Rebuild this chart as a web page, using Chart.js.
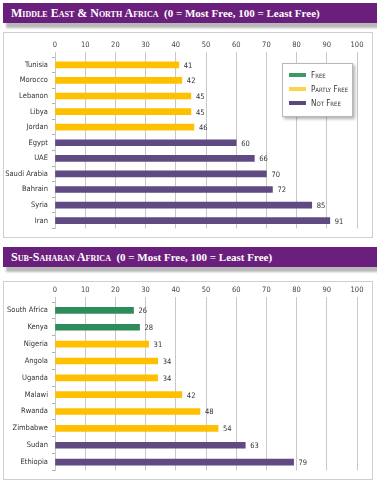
<!DOCTYPE html>
<html>
<head>
<meta charset="utf-8">
<script src="https://cdn.jsdelivr.net/npm/chart.js@4"></script>
<style>
  body { margin: 0; background: #fff; width: 377px; height: 500px; position: relative; overflow: hidden; }
  .hdr {
    position: absolute; left: 3px; width: 374px; height: 20px;
    background: #6b1f7c; color: #fff;
    font-family: "Liberation Serif", serif; font-weight: bold; font-size: 11px;
    line-height: 20px; padding-left: 8px; box-sizing: border-box;
    box-shadow: 3px 5px 2px rgba(0,0,0,0.28);
  }
  .hdr .sc { font-variant: small-caps; font-size: 12px; }
  .panel { position: absolute; left: 3px; width: 370px; border: 1px solid #cfcfcf; box-sizing: border-box; background: #fff; }
  .panel canvas { position: absolute; left: 0; top: 0; }
  .legend {
    position: absolute; left: 282px; top: 63px; width: 71px; height: 54px;
    background: #fff; border: 1px solid #b8b8b8; box-sizing: border-box;
    box-shadow: 2px 2px 3px rgba(0,0,0,0.3);
    font-family: "DejaVu Sans Condensed", "DejaVu Sans", sans-serif; font-size: 8px; color: #333; font-variant: small-caps;
  }
  .legend div { position: absolute; left: 6px; height: 10px; line-height: 10px; white-space: nowrap; }
  .legend span.sw { display: inline-block; width: 17px; height: 4px; vertical-align: middle; margin-right: 5px; position: relative; top: -1px; }
</style>
</head>
<body>
<div class="hdr" style="top:3px;"><span class="sc">Middle East &amp; North Africa</span>&nbsp; (0 = Most Free, 100 = Least Free)</div>
<div class="panel" style="top:32px;height:206px;"><canvas id="mena"></canvas></div>
<div class="legend">
  <div style="top:7px;"><span class="sw" style="background:#3a9a6a"></span>Free</div>
  <div style="top:21px;"><span class="sw" style="background:#ffd34d"></span>Partly Free</div>
  <div style="top:35px;"><span class="sw" style="background:#5a4a7c"></span>Not Free</div>
</div>
<div class="hdr" style="top:247px;"><span class="sc">Sub-Saharan Africa</span>&nbsp; (0 = Most Free, 100 = Least Free)</div>
<div class="panel" style="top:281px;height:199px;"><canvas id="ssa"></canvas></div>
<script>
const menaCountries = ['Tunisia', 'Morocco', 'Lebanon', 'Libya', 'Jordan', 'Egypt', 'UAE', 'Saudi Arabia', 'Bahrain', 'Syria', 'Iran'];
const menaScores = [41, 42, 45, 45, 46, 60, 66, 70, 72, 85, 91];
const menaStatus = ['P', 'P', 'P', 'P', 'P', 'N', 'N', 'N', 'N', 'N', 'N'];

const ssaCountries = ['South Africa', 'Kenya', 'Nigeria', 'Angola', 'Uganda', 'Malawi', 'Rwanda', 'Zimbabwe', 'Sudan', 'Ethiopia'];
const ssaScores = [26, 28, 31, 34, 34, 42, 48, 54, 63, 79];
const ssaStatus = ['F', 'F', 'P', 'P', 'P', 'P', 'P', 'P', 'N', 'N'];

const xTicks = [0, 10, 20, 30, 40, 50, 60, 70, 80, 90, 100];

const statusColors = { F: '#2e8b5a', P: '#ffc000', N: '#5f4a82' };
const FAMILY = '"DejaVu Sans Condensed", "DejaVu Sans", sans-serif';
const FONT = { family: FAMILY, size: 7.5 };

// draws the score just right of each bar
const valueLabels = {
  id: 'valueLabels',
  afterDatasetsDraw(chart) {
    const c = chart.ctx;
    const meta = chart.getDatasetMeta(0);
    c.save();
    c.font = '7.5px ' + FAMILY;
    c.fillStyle = '#333';
    c.textBaseline = 'middle';
    meta.data.forEach((bar, i) => {
      c.fillText(chart.data.datasets[0].data[i], bar.x + 5, bar.y + 1);
    });
    c.restore();
  }
};

function makeChart(id, w, h, labels, scores, status, padTop, padBottom) {
  const canvas = document.getElementById(id);
  canvas.width = w;
  canvas.height = h;
  new Chart(canvas.getContext('2d'), {
    type: 'bar',
    data: {
      labels: labels,
      datasets: [{
        data: scores,
        backgroundColor: status.map(s => statusColors[s]),
        barThickness: 6
      }]
    },
    options: {
      indexAxis: 'y',
      responsive: false,
      animation: false,
      layout: { padding: { top: padTop, bottom: padBottom, left: 0, right: 15 } },
      scales: {
        x: {
          position: 'top',
          min: 0,
          max: 100,
          afterBuildTicks: axis => { axis.ticks = xTicks.map(v => ({ value: v })); },
          ticks: { font: FONT, color: '#444', padding: 2 },
          grid: { color: '#c8c8c8', tickLength: 5 },
          border: { display: false }
        },
        y: {
          afterFit: axis => { axis.width = 51; },
          ticks: { font: FONT, color: '#333', padding: 4 },
          grid: { drawOnChartArea: false, offset: true, color: '#b0b0b0', tickLength: 3 },
          border: { color: '#c8c8c8' }
        }
      },
      plugins: { legend: { display: false }, tooltip: { enabled: false } }
    },
    plugins: [valueLabels]
  });
}

makeChart('mena', 368, 204, menaCountries, menaScores, menaStatus, 6, 8);
makeChart('ssa', 368, 197, ssaCountries, ssaScores, ssaStatus, 2, 7);
</script>
</body>
</html>
